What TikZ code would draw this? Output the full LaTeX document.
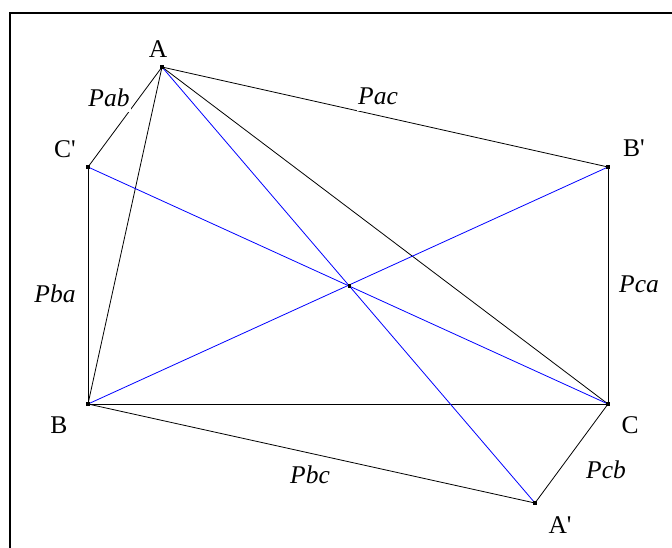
\documentclass[tikz,border=0pt]{standalone}
\usepackage{fontspec}
\setmainfont{Liberation Serif}
\usetikzlibrary{intersections}
\begin{document}
\begin{tikzpicture}[x=1pt,y=-1pt,
  edge/.style={black,line width=0.8pt},
  bedge/.style={blue,line width=0.8pt},
  vlabel/.style={anchor=base,inner sep=0pt,font=\fontsize{25.5}{30}\selectfont},
  plabel/.style={anchor=base,inner sep=1pt,fill=white,font=\fontsize{25.5}{30}\selectfont\itshape,text depth=5pt},
  pt/.style={rectangle,fill=black,inner sep=0pt,minimum size=3.4pt}]
\useasboundingbox (0,0) rectangle (672,547);
\draw[line width=2pt] (10,13) rectangle (690,570);
\coordinate (A) at (162,67);
\coordinate (Cp) at (88,167);
\coordinate (B) at (88,404);
\coordinate (Bp) at (608,167);
\coordinate (C) at (608,404);
\coordinate (Ap) at (535,503);
% black lines
\draw[edge] (A) -- (Cp);
\draw[edge] (Cp) -- (B);
\draw[edge] (B) -- (A);
\draw[edge] (A) -- (Bp);
\draw[edge] (Bp) -- (C);
\draw[edge] (B) -- (C);
\draw[edge] (A) -- (C);
\draw[edge] (B) -- (Ap);
\draw[edge] (Ap) -- (C);
% blue lines
\draw[bedge,name path=l1] (A) -- (Ap);
\draw[bedge,name path=l2] (Cp) -- (C);
\draw[bedge] (B) -- (Bp);
\path[name intersections={of=l1 and l2,by=O}];
% labels
\node[plabel] (pab) at (109,106) {Pab};
\node[plabel] (pac) at (378,104.5) {Pac};
\node[plabel] (pba) at (55,302) {Pba};
\node[plabel] (pca) at (639,292) {Pca};
\node[plabel] (pbc) at (310,483) {Pbc};
\node[plabel] (pcb) at (606,478) {Pcb};
\node[vlabel] (lA) at (158,57) {A};
\node[vlabel] (lCp) at (65,157) {C\textquotesingle};
\node[vlabel] (lBp) at (634,156) {B\textquotesingle};
\node[vlabel] (lB) at (59,433) {B};
\node[vlabel] (lC) at (630,433) {C};
\node[vlabel] (lAp) at (560,533) {A\textquotesingle};
% points
\foreach \p in {A,Cp,B,Bp,C,Ap} \node[pt] at (\p) {};
\node[pt] (o) at (O) {};
\end{tikzpicture}
\end{document}
